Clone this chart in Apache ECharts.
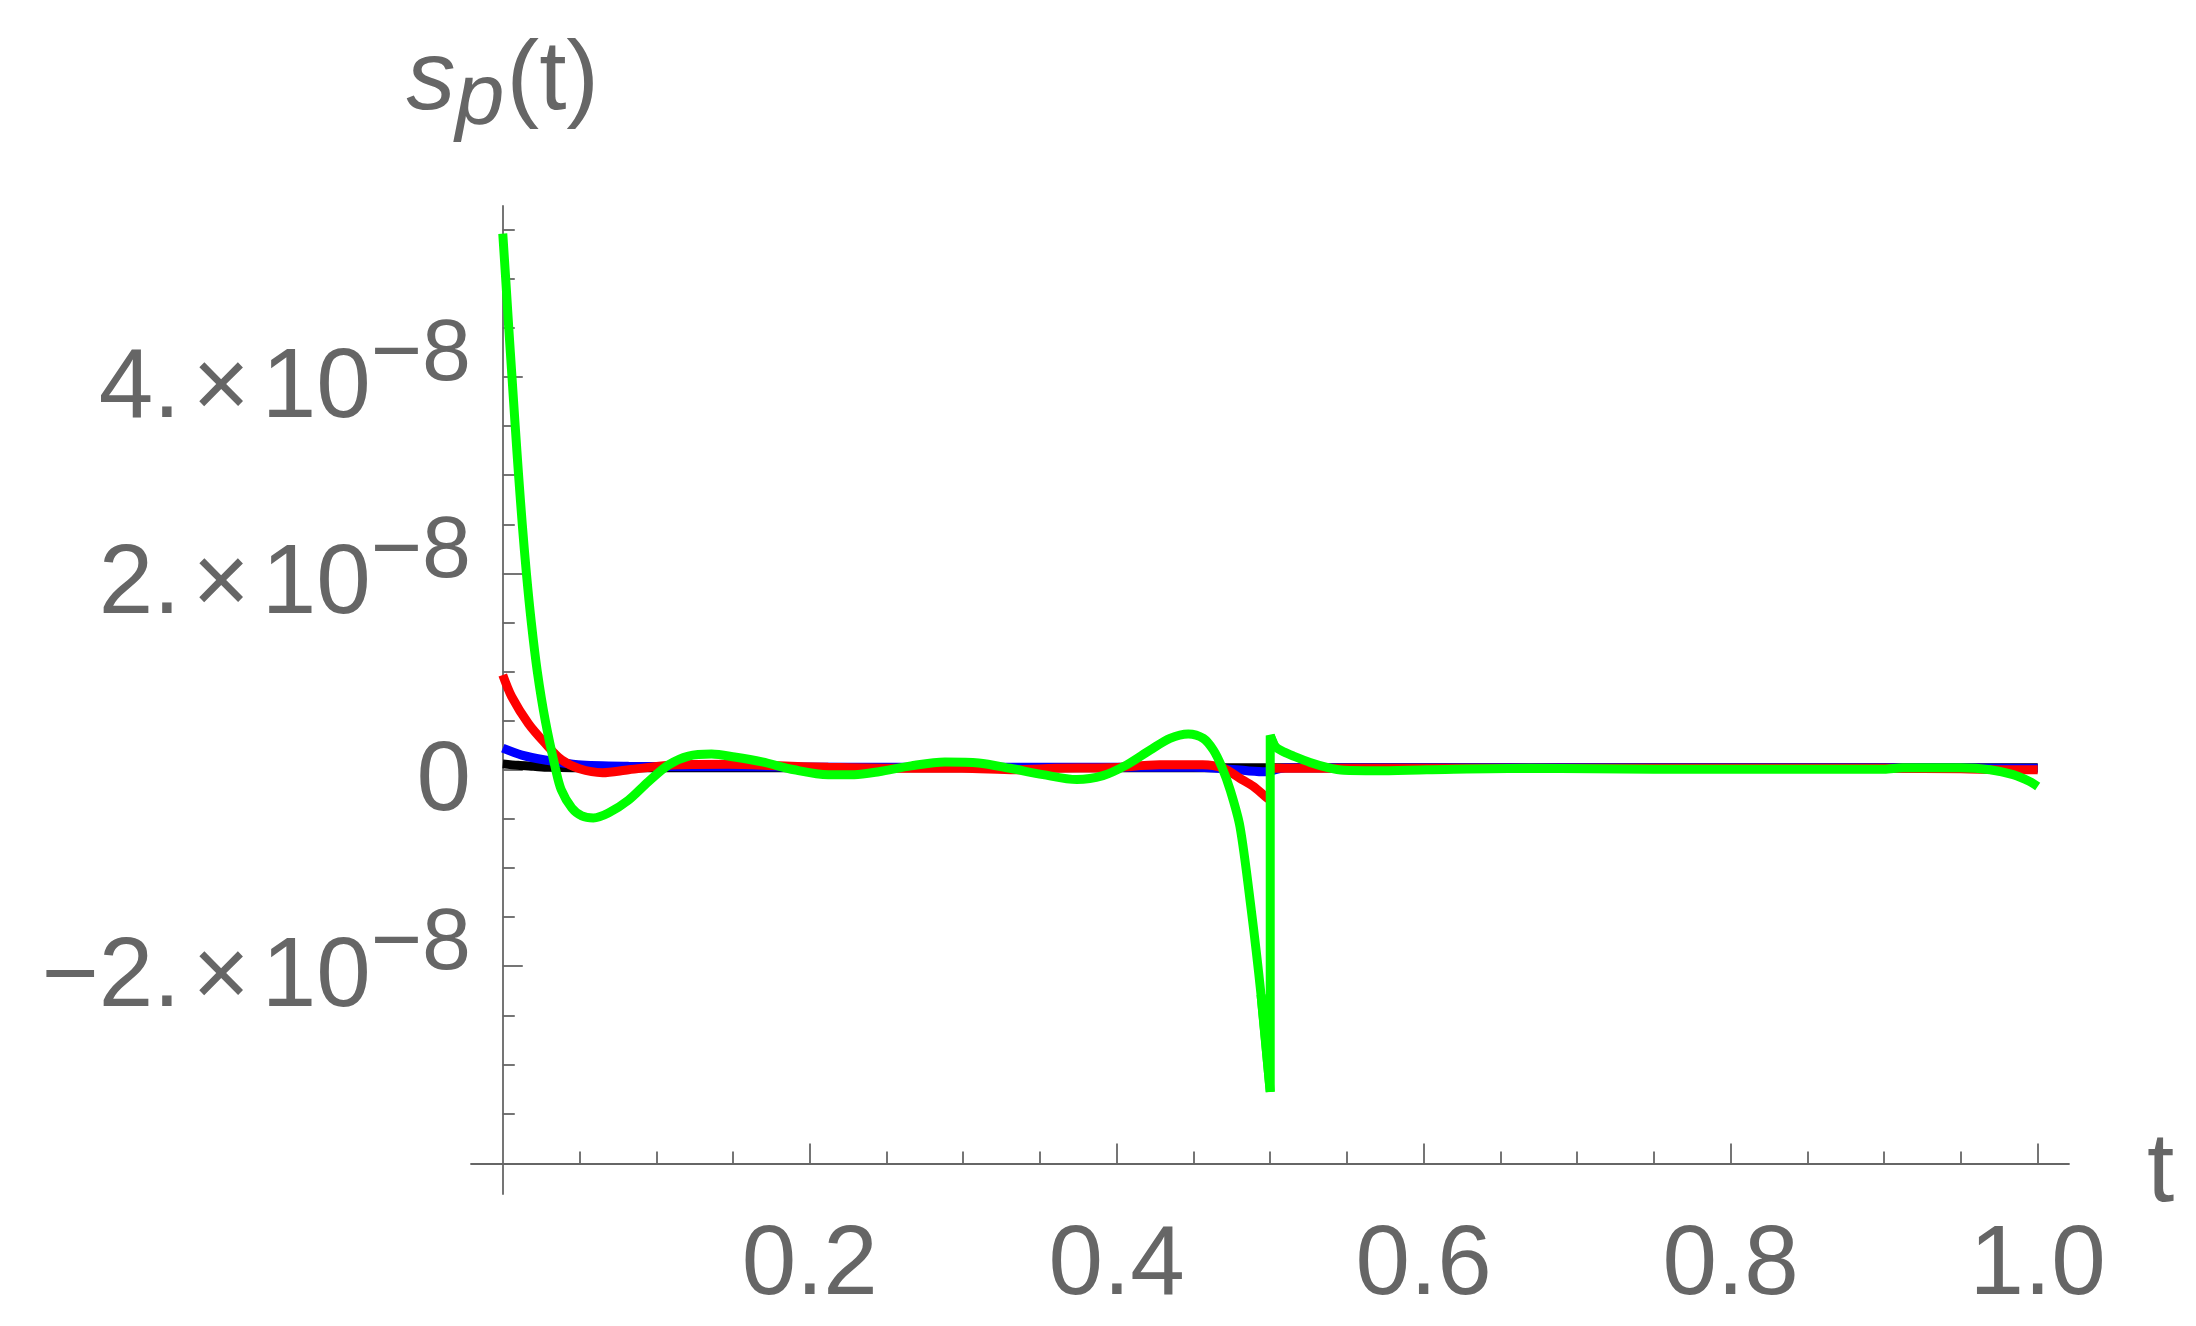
<!DOCTYPE html>
<html>
<head>
<meta charset="utf-8">
<script src="https://cdn.jsdelivr.net/npm/echarts@6/dist/echarts.min.js"></script>
<style>
html,body{margin:0;padding:0;background:#ffffff;}
#c{width:2196px;height:1326px;}
</style>
</head>
<body>
<div id="c"></div>
<script>
// ---- Data (y values in units of 1e-8) ----
const blackT = [0, 0.01, 0.02, 0.03, 0.045, 0.08, 0.2, 0.35, 0.5, 0.7, 1.0];
const blackV = [0.06, 0.045, 0.035, 0.025, 0.02, 0.02, 0.02, 0.02, 0.02, 0.02, 0.02];

const blueT = [0, 0.0124, 0.0276, 0.049, 0.082, 0.15, 0.3, 0.45, 0.47, 0.485, 0.497, 0.51, 0.7, 0.9, 1.0];
const blueV = [0.22, 0.15, 0.10, 0.05, 0.035, 0.03, 0.025, 0.025, 0.01, -0.01, -0.02, 0.02, 0.02, 0.02, 0.015];

const redT1 = [0, 0.0058, 0.0167, 0.0276, 0.0384, 0.05, 0.065, 0.082, 0.114, 0.147, 0.18, 0.212, 0.256, 0.299, 0.334, 0.36, 0.395, 0.428, 0.456, 0.4694, 0.4803, 0.489, 0.4966, 0.5];
const redV1 = [0.965, 0.745, 0.47, 0.27, 0.10, 0.01, -0.03, 0.0, 0.05, 0.055, 0.04, 0.025, 0.015, 0.015, 0.0, 0.015, 0.02, 0.05, 0.05, 0.015, -0.087, -0.17, -0.27, -0.31];
const redT2 = [0.5, 0.6, 0.7, 0.8, 0.9, 0.95, 0.98, 1.0];
const redV2 = [0.015, 0.015, 0.015, 0.015, 0.015, 0.01, 0.0, 0.0];

const greenT1 = [0, 0.0019, 0.0039, 0.0060, 0.0081, 0.0103, 0.0127, 0.0154, 0.0186, 0.0225,
  0.0277, 0.0345, 0.038, 0.045, 0.0515, 0.059, 0.0688, 0.0818,
  0.0949, 0.108, 0.121, 0.136, 0.151, 0.169, 0.19, 0.212, 0.229, 0.245,
  0.266, 0.288, 0.31, 0.3305, 0.352, 0.374, 0.391, 0.4065, 0.4217, 0.4347,
  0.4466, 0.4564, 0.463, 0.4684, 0.474, 0.4803, 0.4875, 0.494, 0.5];
const greenV1 = [5.46, 5.0, 4.5, 4.0, 3.5, 3.0, 2.5, 2.0, 1.5, 1.0,
  0.5, 0.0, -0.2, -0.39, -0.47, -0.49, -0.44, -0.31,
  -0.12, 0.05, 0.14, 0.16, 0.13, 0.08, 0.0, -0.05, -0.05, -0.02,
  0.04, 0.08, 0.07, 0.015, -0.05, -0.10, -0.06, 0.05, 0.20, 0.32,
  0.365, 0.32, 0.20, 0.03, -0.21, -0.58, -1.41, -2.29, -3.28];
const greenT2 = [0.5, 0.503, 0.509, 0.515, 0.526, 0.537, 0.548, 0.569, 0.602, 0.669, 0.75, 0.85, 0.9, 0.912, 0.93, 0.95, 0.969, 0.984, 0.9948, 1.0];
const greenV2 = [0.35, 0.24, 0.18, 0.14, 0.075, 0.025, -0.005, -0.01, 0.0, 0.015, 0.005, 0.005, 0.005, 0.02, 0.02, 0.02, 0.0, -0.05, -0.12, -0.17];

// ---- Ticks & labels ----
const xMajorTicks = [0.2, 0.4, 0.6, 0.8, 1.0];
const xTickLabels = ['0.2', '0.4', '0.6', '0.8', '1.0'];
const xMinorTicks = [0.05, 0.1, 0.15, 0.25, 0.3, 0.35, 0.45, 0.5, 0.55, 0.65, 0.7, 0.75, 0.85, 0.9, 0.95];
const yMajorTicks = [-2, 0, 2, 4];
const yTickMantissa = ['\u22122.', '0', '2.', '4.'];
const yExponent = '\u22128';
const yMinorTicks = [-3.5, -3, -2.5, -1.5, -1, -0.5, 0.5, 1, 1.5, 2.5, 3, 3.5, 4.5, 5, 5.5];
const xName = 't';

// ---- Style ----
const FONT = '"Liberation Sans", Arial, Helvetica, sans-serif';
const GRAY = '#666666';
const LW = 9;

function pairs(t, v) { return t.map((x, i) => [x, v[i]]); }

const n1 = greenT1.length;
const greenJump = [
  [greenT1[n1 - 2], greenV1[n1 - 2]],
  [greenT1[n1 - 1], greenV1[n1 - 1]],
  [greenT2[0], greenV2[0]],
  [greenT2[1], greenV2[1]]
];

function yLabel(v) {
  let idx = -1;
  for (let i = 0; i < yMajorTicks.length; i++) if (Math.abs(yMajorTicks[i] - v) < 1e-9) idx = i;
  if (idx < 0) return '';
  if (yMajorTicks[idx] === 0) return '{m|0}';
  return '{m|' + yTickMantissa[idx] + '}{x|\u00d7}{m|10}{s|' + yExponent + '}';
}

const chart = echarts.init(document.getElementById('c'), null, { renderer: 'canvas', width: 2196, height: 1326 });

const lineBase = { type: 'line', showSymbol: false, symbol: 'none', animation: false, xAxisIndex: 0, yAxisIndex: 0 };
const LH = 150;

const option = {
  animation: false,
  backgroundColor: '#ffffff',
  grid: { left: 471, right: 127, top: 206, bottom: 132, containLabel: false, outerBoundsMode: 'none' },
  xAxis: [
    {
      type: 'value', min: -0.0207, max: 1.0204, position: 'bottom', offset: -30.5,
      axisLine: { show: true, onZero: false, lineStyle: { color: GRAY, width: 1.8 } },
      axisTick: { show: true, inside: true, length: 20, customValues: xMajorTicks, lineStyle: { color: GRAY, width: 1.8 } },
      axisLabel: {
        show: true, customValues: xMajorTicks, margin: 54,
        formatter: function (v) { const i = xMajorTicks.findIndex(a => Math.abs(a - v) < 1e-9); return i >= 0 ? xTickLabels[i] : ''; },
        fontSize: 98, fontFamily: FONT, color: GRAY
      },
      splitLine: { show: false },
      name: xName, nameLocation: 'end', nameGap: 78,
      nameTextStyle: { fontSize: 98, fontFamily: FONT, color: GRAY, verticalAlign: 'top', lineHeight: 20 }
    },
    {
      type: 'value', min: -0.0207, max: 1.0204, position: 'bottom', offset: -30.5,
      axisLine: { show: false, onZero: false },
      axisTick: { show: true, inside: true, length: 12, customValues: xMinorTicks, lineStyle: { color: GRAY, width: 1.8 } },
      axisLabel: { show: false },
      splitLine: { show: false }
    }
  ],
  yAxis: [
    {
      type: 'value', min: -4.32, max: 5.741, position: 'left',
      axisLine: { show: true, onZero: true, onZeroAxisIndex: 0, lineStyle: { color: GRAY, width: 1.8 } },
      axisTick: { show: true, inside: true, length: 20, customValues: yMajorTicks, lineStyle: { color: GRAY, width: 1.8 } },
      axisLabel: {
        show: true, customValues: yMajorTicks, margin: 0, formatter: yLabel,
        fontFamily: FONT, color: GRAY, fontSize: 98, lineHeight: LH,
        rich: {
          m: { fontSize: 98, lineHeight: LH, fontFamily: FONT, color: GRAY, verticalAlign: 'top', padding: [39, 0, 0, 0] },
          x: { fontSize: 98, lineHeight: LH, fontFamily: FONT, color: GRAY, verticalAlign: 'top', padding: [39, 12, 0, 12] },
          s: { fontSize: 88, lineHeight: LH, fontFamily: FONT, color: GRAY, verticalAlign: 'top', padding: [10, 0, 0, 0] }
        }
      },
      splitLine: { show: false },
      name: '{i|s}{p|p}{r|(t)}', nameLocation: 'end', nameGap: 75,
      nameTextStyle: {
        fontSize: 98, fontFamily: FONT, color: GRAY,
        rich: {
          i: { fontSize: 98, lineHeight: 98, fontStyle: 'italic', fontFamily: FONT, color: GRAY, verticalAlign: 'top' },
          p: { fontSize: 88, lineHeight: 88, fontStyle: 'italic', fontFamily: FONT, color: GRAY, verticalAlign: 'top', padding: [23, 2, 0, 0] },
          r: { fontSize: 98, lineHeight: 98, fontFamily: FONT, color: GRAY, verticalAlign: 'top' }
        }
      }
    },
    {
      type: 'value', min: -4.32, max: 5.741, position: 'left',
      axisLine: { show: false, onZero: true, onZeroAxisIndex: 0 },
      axisTick: { show: true, inside: true, length: 12, customValues: yMinorTicks, lineStyle: { color: GRAY, width: 1.8 } },
      axisLabel: { show: false },
      splitLine: { show: false }
    }
  ],
  series: [
    Object.assign({}, lineBase, { name: 'black', data: pairs(blackT, blackV), smooth: 0.3, lineStyle: { color: '#000000', width: LW }, itemStyle: { color: '#000000' } }),
    Object.assign({}, lineBase, { name: 'blue', data: pairs(blueT, blueV), smooth: 0.3, lineStyle: { color: '#0000ff', width: LW }, itemStyle: { color: '#0000ff' } }),
    Object.assign({}, lineBase, { name: 'red1', data: pairs(redT1, redV1), smooth: 0.3, lineStyle: { color: '#ff0000', width: LW }, itemStyle: { color: '#ff0000' } }),
    Object.assign({}, lineBase, { name: 'red2', data: pairs(redT2, redV2), smooth: 0.3, lineStyle: { color: '#ff0000', width: LW }, itemStyle: { color: '#ff0000' } }),
    Object.assign({}, lineBase, { name: 'green1', data: pairs(greenT1, greenV1), smooth: 0.3, lineStyle: { color: '#00ff00', width: LW }, itemStyle: { color: '#00ff00' } }),
    Object.assign({}, lineBase, { name: 'greenJump', data: greenJump, smooth: false, lineStyle: { color: '#00ff00', width: LW, join: 'bevel' }, itemStyle: { color: '#00ff00' } }),
    Object.assign({}, lineBase, { name: 'green2', data: pairs(greenT2, greenV2), smooth: 0.3, lineStyle: { color: '#00ff00', width: LW }, itemStyle: { color: '#00ff00' } })
  ]
};

chart.setOption(option);
</script>
</body>
</html>
